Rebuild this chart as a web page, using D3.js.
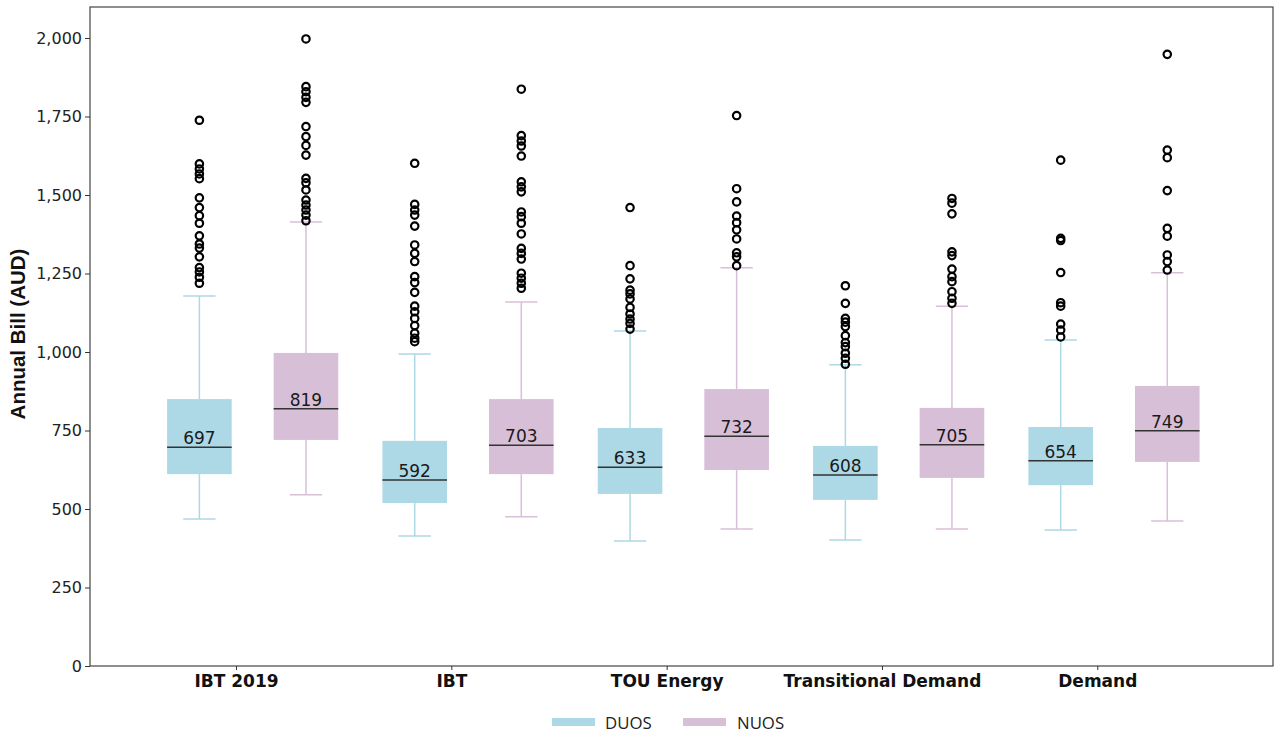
<!DOCTYPE html>
<html>
<head>
<meta charset="utf-8">
<script src="https://cdn.jsdelivr.net/npm/d3@7"></script>
<style>
  html, body { margin: 0; padding: 0; background: #fff; }
  svg { display: block; }
</style>
</head>
<body>
<svg id="chart" width="1275" height="733"></svg>
<script>
// ---------- data ----------
const categories = ["IBT 2019", "IBT", "TOU Energy", "Transitional Demand", "Demand"];
const seriesNames = ["DUOS", "NUOS"];

// [whiskerLow, q1, median, q3, whiskerHigh] per category
const duosStats = [
  [468, 611, 697, 850, 1178],
  [414, 519, 592, 717, 994],
  [398, 548, 633, 758, 1067],
  [401, 529, 608, 701, 959],
  [433, 576, 654, 761, 1038]
];
const nuosStats = [
  [545, 720, 819, 997, 1414],
  [475, 611, 703, 850, 1159],
  [436, 624, 732, 882, 1268],
  [436, 599, 705, 822, 1146],
  [462, 650, 749, 892, 1252]
];

const duosOutliers = [
  [1738, 1599, 1583, 1567, 1552, 1491, 1460, 1434, 1410, 1370, 1344, 1331, 1303, 1269, 1255, 1238, 1219],
  [1601, 1470, 1452, 1436, 1401, 1341, 1314, 1288, 1240, 1221, 1190, 1146, 1128, 1107, 1084, 1060, 1044, 1033],
  [1460, 1275, 1233, 1197, 1185, 1169, 1142, 1121, 1105, 1091, 1073],
  [1211, 1155, 1107, 1095, 1081, 1052, 1030, 1017, 996, 980, 961],
  [1611, 1362, 1355, 1253, 1157, 1146, 1089, 1070, 1048]
];
const nuosOutliers = [
  [1997, 1845, 1829, 1811, 1795, 1718, 1686, 1658, 1627, 1553, 1539, 1516, 1484, 1468, 1452, 1436, 1418],
  [1837, 1689, 1672, 1656, 1624, 1542, 1526, 1510, 1446, 1431, 1410, 1376, 1330, 1314, 1296, 1251, 1235, 1219, 1203],
  [1753, 1520, 1478, 1433, 1412, 1389, 1360, 1316, 1303, 1275],
  [1489, 1474, 1440, 1319, 1307, 1264, 1240, 1224, 1192, 1171, 1155],
  [1948, 1643, 1619, 1514, 1394, 1369, 1309, 1288, 1261]
];

const yTicks = [0, 250, 500, 750, 1000, 1250, 1500, 1750, 2000];
const yLabel = "Annual Bill (AUD)";
const colors = ["#add8e6", "#d8bfd8"];

// ---------- layout ----------
const svg = d3.select("#chart");
const mLeft = 90, mRight = 1273, mTop = 7, mBottom = 666;

const x = d3.scaleLinear().domain([-0.678, 4.816]).range([mLeft, mRight]);
const y = d3.scaleLinear().domain([0, 2100]).range([mBottom, mBottom - 0.314 * 2100]);

const boxOffsets = [-0.17, 0.325];
const boxW = 0.30;

// frame
svg.append("rect")
  .attr("x", mLeft).attr("y", mTop)
  .attr("width", mRight - mLeft).attr("height", mBottom - mTop)
  .attr("fill", "none").attr("stroke", "#444").attr("stroke-width", 1.2);

// y axis
const yAxis = d3.axisLeft(y).tickValues(yTicks).tickFormat(d3.format(",")).tickSize(5).tickPadding(3);
const gy = svg.append("g").attr("transform", `translate(${mLeft},0)`).call(yAxis);
gy.select(".domain").remove();
gy.selectAll(".tick line").attr("stroke", "#333");
gy.selectAll("text").attr("font-family", "DejaVu Sans").attr("font-size", 16).attr("fill", "#222");

// x axis
const xAxis = d3.axisBottom(x).tickValues(d3.range(categories.length)).tickFormat(i => categories[i]).tickSize(4).tickPadding(5);
const gx = svg.append("g").attr("transform", `translate(0,${mBottom})`).call(xAxis);
gx.select(".domain").remove();
gx.selectAll(".tick line").attr("stroke", "#333");
gx.selectAll("text").attr("font-family", "DejaVu Sans").attr("font-weight", "bold").attr("font-size", 17).attr("fill", "#111");

// y label
svg.append("text")
  .attr("transform", `translate(25,334) rotate(-90)`)
  .attr("text-anchor", "middle")
  .attr("font-family", "Liberation Sans Narrow, Liberation Sans, Arial")
  .attr("font-weight", "bold").attr("font-size", 20.5).attr("fill", "#111")
  .text(yLabel);

// boxes
const allStats = [duosStats, nuosStats];
const allOut = [duosOutliers, nuosOutliers];

allStats.forEach((stats, s) => {
  const g = svg.append("g").attr("class", "series-" + seriesNames[s]);
  stats.forEach((st, i) => {
    const [lo, q1, med, q3, hi] = st;
    const cx = x(i + boxOffsets[s]);
    const hw = (x(boxW) - x(0)) / 2;
    const cw = hw / 2;
    // whiskers
    g.append("line").attr("x1", cx).attr("x2", cx).attr("y1", y(hi)).attr("y2", y(q3))
      .attr("stroke", colors[s]).attr("stroke-width", 1.5);
    g.append("line").attr("x1", cx).attr("x2", cx).attr("y1", y(q1)).attr("y2", y(lo))
      .attr("stroke", colors[s]).attr("stroke-width", 1.5);
    g.append("line").attr("x1", cx - cw).attr("x2", cx + cw).attr("y1", y(hi)).attr("y2", y(hi))
      .attr("stroke", colors[s]).attr("stroke-width", 1.5);
    g.append("line").attr("x1", cx - cw).attr("x2", cx + cw).attr("y1", y(lo)).attr("y2", y(lo))
      .attr("stroke", colors[s]).attr("stroke-width", 1.5);
    // box
    g.append("rect").attr("x", cx - hw).attr("y", y(q3)).attr("width", 2 * hw).attr("height", y(q1) - y(q3))
      .attr("fill", colors[s]);
    // median
    g.append("line").attr("x1", cx - hw).attr("x2", cx + hw).attr("y1", y(med)).attr("y2", y(med))
      .attr("stroke", "#333").attr("stroke-width", 1.5);
    g.append("text").attr("x", cx).attr("y", y(med) - 3)
      .attr("text-anchor", "middle").attr("font-family", "DejaVu Sans").attr("font-size", 17).attr("fill", "#1a1a1a")
      .text(med);
    // outliers
    g.selectAll(null).data(allOut[s][i]).enter().append("circle")
      .attr("cx", cx).attr("cy", d => y(d)).attr("r", 3.7)
      .attr("fill", "none").attr("stroke", "#000").attr("stroke-width", 2.2);
  });
});

// legend
const legend = svg.append("g");
const legItems = [{ x: 552, tx: 605 }, { x: 683, tx: 737 }];
seriesNames.forEach((n, s) => {
  legend.append("rect").attr("x", legItems[s].x).attr("y", 718).attr("width", 43).attr("height", 8)
    .attr("fill", colors[s]);
  legend.append("text").attr("x", legItems[s].tx).attr("y", 729)
    .attr("font-family", "Open Sans, DejaVu Sans").attr("font-size", 16.8).attr("fill", "#222")
    .text(n);
});
</script>
</body>
</html>
